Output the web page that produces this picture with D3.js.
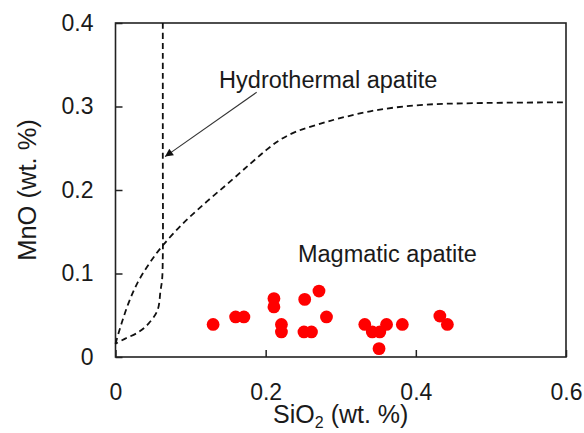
<!DOCTYPE html>
<html>
<head>
<meta charset="utf-8">
<script src="https://cdn.jsdelivr.net/npm/d3@7"></script>
<style>
  body { margin: 0; background: #fff; }
  text { font-family: "Liberation Sans", Arial, sans-serif; fill: #1a1a1a; }
</style>
</head>
<body>
<div id="chart"></div>
<script>
// measured points (SiO2, MnO in wt. %)
var sio2 = [0.13, 0.16, 0.171, 0.211, 0.211, 0.221, 0.221, 0.252, 0.271, 0.281,
            0.251, 0.261, 0.332, 0.342, 0.352, 0.361, 0.351, 0.382, 0.432, 0.442];
var mno  = [0.039, 0.048, 0.048, 0.070, 0.060, 0.039, 0.030, 0.069, 0.079, 0.048,
            0.030, 0.030, 0.039, 0.030, 0.030, 0.039, 0.010, 0.039, 0.049, 0.039];

// boundary of hydrothermal field (near-vertical)
var hydroX = [0.063, 0.063, 0.063, 0.062, 0.060, 0.056, 0.044, 0.031, 0.013, 0.0];
var hydroY = [0.4, 0.25, 0.12, 0.092, 0.080, 0.056, 0.040, 0.030, 0.022, 0.016];

// boundary of magmatic field
var magX = [0.0, 0.008, 0.018, 0.030, 0.045, 0.0615, 0.090, 0.1215, 0.1525,
            0.179, 0.201, 0.219, 0.241, 0.268, 0.299, 0.35, 0.41, 0.477, 0.6];
var magY = [0.016, 0.040, 0.066, 0.090, 0.112, 0.132, 0.160, 0.186, 0.210,
            0.231, 0.248, 0.260, 0.270, 0.278, 0.286, 0.296, 0.302, 0.304, 0.305];

var xTicks = [0, 0.2, 0.4, 0.6];
var yTicks = [0, 0.1, 0.2, 0.3, 0.4];

var width = 584, height = 433,
  margin = {left: 115.5, right: 18, top: 23, bottom: 76},
  w = width - margin.left - margin.right,
  h = height - margin.top - margin.bottom;

var svg = d3.select("#chart").append("svg")
  .attr("width", width)
  .attr("height", height);
var chart = svg.append("g")
  .attr("transform", "translate(" + margin.left + "," + margin.top + ")");

var x = d3.scaleLinear().domain([0, 0.6]).range([0, w]);
var y = d3.scaleLinear().domain([0, 0.4]).range([h, 0]);

// frame
chart.append("rect")
  .attr("width", w).attr("height", h)
  .attr("fill", "none").attr("stroke", "#222").attr("stroke-width", 1.6);

// axes with inward ticks
var fmt = function (d) { return d === 0 ? "0" : d3.format(".1f")(d); };
var xAxis = chart.append("g")
  .attr("transform", "translate(0," + h + ")")
  .call(d3.axisBottom(x).tickValues(xTicks).tickSize(-7).tickPadding(27).tickFormat(fmt));
var yAxis = chart.append("g")
  .call(d3.axisLeft(y).tickValues(yTicks).tickSize(-7).tickPadding(22).tickFormat(fmt));

[xAxis, yAxis].forEach(function (a) {
  a.select(".domain").remove();
  a.selectAll("line").attr("stroke", "#222").attr("stroke-width", 1.5);
  a.selectAll("text").style("font-size", "23px").attr("fill", "#1a1a1a")
    .style("font-family", "'Liberation Sans', Arial, sans-serif");
});

// axis titles
var xt = svg.append("text")
  .attr("x", margin.left + w / 2).attr("y", 423)
  .attr("text-anchor", "middle").style("font-size", "25px");
xt.append("tspan").text("SiO");
xt.append("tspan").text("2").attr("dy", 5).style("font-size", "16px");
xt.append("tspan").text(" (wt. %)").attr("dy", -5);

svg.append("text")
  .attr("transform", "translate(35.5," + (margin.top + h / 2) + ") rotate(-90)")
  .attr("text-anchor", "middle").style("font-size", "25.5px")
  .text("MnO (wt. %)");

// field boundaries
var line = d3.line()
  .x(function (d) { return x(d[0]); })
  .y(function (d) { return y(d[1]); })
  .curve(d3.curveCatmullRom.alpha(0.5));

chart.append("path")
  .datum(d3.zip(hydroX, hydroY))
  .attr("d", line)
  .attr("fill", "none").attr("stroke", "#111")
  .attr("stroke-width", 1.8).attr("stroke-dasharray", "6,4");

chart.append("path")
  .datum(d3.zip(magX, magY))
  .attr("d", line)
  .attr("fill", "none").attr("stroke", "#111")
  .attr("stroke-width", 1.8).attr("stroke-dasharray", "6,4");

// points
chart.selectAll("circle")
  .data(d3.zip(sio2, mno))
  .enter().append("circle")
  .attr("cx", function (d) { return x(d[0]); })
  .attr("cy", function (d) { return y(d[1]); })
  .attr("r", 6.4)
  .attr("fill", "#ff0000");

// annotations
svg.append("defs").append("marker")
  .attr("id", "arrow")
  .attr("viewBox", "0 0 10 10")
  .attr("refX", 10).attr("refY", 5)
  .attr("markerWidth", 10).attr("markerHeight", 8)
  .attr("markerUnits", "userSpaceOnUse")
  .attr("orient", "auto")
  .append("path").attr("d", "M0,0L10,5L0,10Z").attr("fill", "#111");

chart.append("line")
  .attr("x1", x(0.188)).attr("y1", y(0.317))
  .attr("x2", x(0.066)).attr("y2", y(0.240))
  .attr("stroke", "#333").attr("stroke-width", 1.1)
  .attr("marker-end", "url(#arrow)");

chart.append("text")
  .attr("x", x(0.138)).attr("y", y(0.322))
  .style("font-size", "23.5px")
  .text("Hydrothermal apatite");

chart.append("text")
  .attr("x", x(0.243)).attr("y", y(0.114))
  .style("font-size", "23.5px")
  .text("Magmatic apatite");
</script>
</body>
</html>
